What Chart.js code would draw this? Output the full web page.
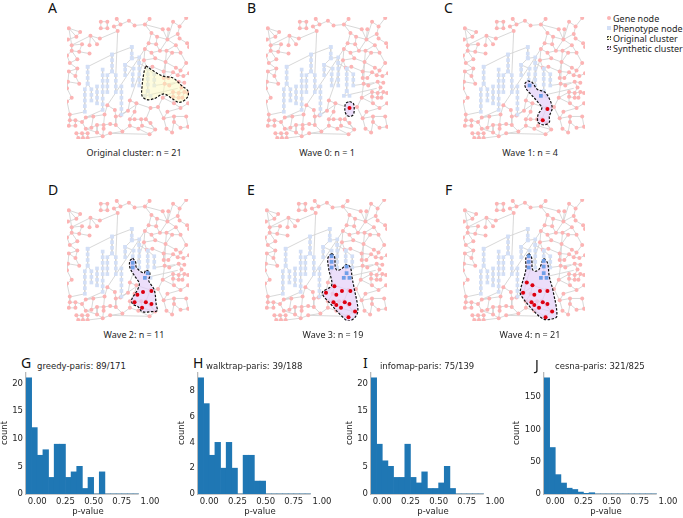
<!DOCTYPE html>
<html>
<head>
<meta charset="utf-8">
<script src="https://cdn.jsdelivr.net/npm/chart.js@4"></script>
<style>
  html, body { margin: 0; background: #fff; width: 683px; height: 518px; overflow: hidden; }
  canvas { position: absolute; }
  .txt { position: absolute; white-space: nowrap; color: #262626; line-height: 1; }
  .letter { font: 14px "Noto Sans", sans-serif; color: #111; transform: translateY(-50%); }
  .caption { font: 9px "Noto Sans", sans-serif; transform: translate(-50%, -50%); }
  .hist-title { font: 8.5px "DejaVu Sans", sans-serif; transform: translateY(-50%); }
  .legend { font: 9px "Noto Sans", sans-serif; transform: translateY(-50%); left: 613px; }
  .mark { position: absolute; box-sizing: border-box; }
</style>
</head>
<body>
<script>
// network layout, units are 0-130 across one panel
const geneNodes = [
  [36,5],[43,5],[36,12],[43,12],[53,2],[57,8],[50,10],[66,4],[54,15],[2,12],
  [14,16],[10,21],[1,24],[25,20],[35,23],[5,30],[16,29],[24,30],[32,29],[0,41],
  [5,36],[13,37],[24,39],[11,45],[3,49],[11,55],[2,58],[9,63],[88,2],[72,9],
  [83,8],[113,5],[127,1],[120,10],[102,13],[108,13],[90,17],[96,21],[118,18],[120,23],
  [107,24],[95,29],[87,28],[116,30],[128,28],[83,34],[90,38],[99,36],[106,36],[112,38],
  [121,38],[130,32],[82,46],[94,44],[105,48],[127,49],[91,53],[85,54],[103,58],[116,54],
  [121,57],[113,59],[118,62],[124,63],[103,65],[108,65],[130,60],[13,71],[1,69],[0,76],
  [5,86],[0,90],[3,104],[43,94],[51,99],[40,104],[52,106],[65,100],[57,105],[20,107],
  [28,106],[16,112],[3,110],[9,110],[2,116],[9,116],[20,119],[26,118],[39,115],[46,114],
  [32,115],[59,122],[39,119],[46,124],[38,127],[10,124],[16,124],[22,124],[12,129],[17,129],
  [22,129],[52,115],[32,123],[104,71],[109,73],[119,69],[125,70],[122,75],[113,80],[119,81],
  [125,80],[129,81],[113,85],[119,86],[123,86],[102,86],[129,92],[114,92],[67,89],[74,92],
  [72,101],[121,97],[107,101],[67,109],[72,109],[79,109],[84,109],[103,108],[114,106],[127,106],
  [114,112],[89,113],[80,116],[76,119],[67,116],[106,119],[121,118],[129,117],[94,120],[112,123],
  [88,125],[89,97],[97,96]
];
const geneEdges = [
  [0,1],[1,3],[3,2],[2,0],[4,5],[5,6],[6,8],[5,7],[8,14],[14,13],[13,15],[15,16],[13,17],[13,18],
  [9,10],[9,11],[10,11],[11,12],[15,9],[15,20],[20,19],[20,21],[21,22],[16,21],[19,24],[23,24],
  [23,20],[24,25],[25,26],[25,27],[26,27],[29,30],[30,34],[34,40],[35,40],[36,37],[37,40],[36,42],
  [37,41],[42,41],[40,31],[40,38],[38,39],[39,44],[44,51],[40,43],[43,50],[43,48],[48,49],[49,50],
  [47,48],[47,46],[46,45],[45,42],[45,52],[46,53],[53,52],[53,54],[52,57],[56,57],[56,58],[54,58],
  [54,59],[59,60],[60,62],[62,61],[61,58],[62,63],[63,66],[55,60],[50,55],[49,54],[48,54],[64,65],
  [64,58],[65,61],[29,7],[28,30],[33,31],[33,38],[40,47],[41,47],[30,36],[32,33],
  [67,68],[68,69],[69,70],[70,71],[71,72],[72,82],[73,74],[73,75],[75,79],[74,76],[76,78],[78,77],
  [75,88],[76,101],[101,91],[88,89],[89,101],[88,92],[92,94],[94,93],[93,91],[79,80],[79,81],[80,87],
  [81,86],[86,87],[81,83],[82,83],[84,85],[82,84],[83,85],[95,96],[96,97],[98,99],[99,100],[95,98],
  [96,99],[97,100],[100,94],[90,87],[90,102],[90,88],[102,86],[94,102],[27,67],[26,68],
  [103,104],[104,105],[105,106],[107,105],[108,109],[109,110],[110,111],[112,113],[113,114],[108,112],
  [109,113],[110,114],[107,109],[115,103],[115,108],[115,117],[117,112],[117,121],[121,116],[121,122],
  [122,127],[127,128],[128,129],[128,130],[130,136],[136,137],[127,135],[135,139],[130,139],[129,137],
  [118,119],[119,141],[119,120],[120,123],[123,124],[124,125],[125,126],[126,131],[132,133],[133,134],
  [134,123],[133,140],[125,132],[132,138],[126,138],[131,138],[138,140],[141,142],[141,126],[142,115],
  [52,118],[93,140],[91,134],[77,118],[142,127],[58,64],[54,103],[45,73]
];
const phenoChains = [
  [[69,32],[69,39],[69,44]],
  [[69,32],[48,40],[22,53]],
  [[48,40],[48,46],[48,52],[48,58],[52,62],[52,68],[52,74],[52,80]],
  [[48,58],[43,62],[43,68],[43,74],[43,80]],
  [[38,56],[38,62],[38,68],[38,74],[38,80],[38,87],[38,93],[38,99]],
  [[22,53],[22,59],[22,65],[22,71],[19,77],[19,83],[19,89],[19,95],[19,101]],
  [[22,71],[26,77],[26,83],[26,89]],
  [[32,74],[32,80],[32,86],[32,92]],
  [[58,74],[58,80],[58,86],[58,92],[58,98],[58,104]],
  [[69,44],[62,51],[62,56],[62,62]],
  [[69,44],[77,43],[77,49],[77,55],[77,61],[77,67],[77,73]],
  [[62,51],[71,55],[70,61],[70,67],[70,73]],
  [[77,49],[86,55],[86,61],[86,66],[86,72],[86,79],[83,84]],
  [[86,79],[89,84]],
  [[86,55],[93,61],[93,67],[93,73]]
];
const crossLinks = [
  [[54,15],[52,62]], [[58,104],[64,100]], [[93,73],[115,70]], [[83,84],[118,76]],
  [[38,99],[20,107]], [[58,104],[73,94]], [[19,101],[5,104]]
];

const clusterA = [[84,52],[93,58],[102,63],[113,65],[122,73],[129,79],[128,86],[120,91],[112,87],[103,82],[93,87],[85,88],[80,84],[80,74],[82,59],[84,52]];
const clusterB = [[89,90],[93,92],[94,98],[93,104],[89,106],[85,103],[84,97],[85,92],[89,90]];
const clusterC = [[69,68],[74,70],[79,77],[87,80],[92,87],[95,97],[92,106],[92,112],[86,115],[80,112],[80,104],[84,97],[80,91],[73,83],[67,76],[66,71],[69,68]];
const clusterD = [[70,63],[73,67],[74,73],[82,79],[84,76],[88,78],[88,83],[87,87],[93,97],[95,112],[96,119],[90,120],[80,120],[76,115],[70,112],[69,107],[75,97],[77,90],[72,82],[67,73],[67,66],[70,63]];
const clusterE = [[71,58],[74,61],[75,73],[77,76],[82,74],[87,70],[91,73],[93,85],[95,95],[99,118],[96,126],[89,130],[82,125],[71,113],[61,100],[71,92],[68,75],[67,63],[71,58]];
const clusterF = [[70,58],[73,62],[74,75],[77,77],[81,75],[86,64],[90,68],[92,83],[96,98],[100,125],[94,128],[86,128],[76,120],[62,103],[61,98],[67,75],[67,63],[70,58]];

const redB = [[89,97]];
const redC = [[90,98],[85,110]];
const blueC = [[71,73],[83,84]];
const redD = [[81,99],[90,98],[75,102],[72,110],[84,110],[90,112],[80,116]];
const blueD = [[70,68],[70,73],[86,79],[83,84]];
const redE = [[74,93],[65,100],[82,98],[91,98],[76,102],[73,110],[85,110],[76,113],[90,112],[81,116],[96,120],[89,126]];
const blueE = [[71,61],[71,67],[71,73],[87,72],[87,79],[84,84],[90,84]];
const redF = [[68,89],[74,92],[64,100],[82,98],[90,98],[76,102],[73,110],[85,110],[76,113],[90,112],[81,116],[95,120],[88,126]];
const blueF = [[70,61],[70,67],[70,73],[86,66],[86,72],[86,79],[83,84],[89,84]];

// histograms, 20 bins of 0.05
const binCenters = [-0.075,-0.025,0.025,0.075,0.125,0.175,0.225,0.275,0.325,0.375,0.425,0.475,0.525,0.575,0.625,0.675,0.725,0.775,0.825,0.875];
const greedyCounts = [21,12,7,8,3,9,9,3,4,5,1,3,0,4,0,0,0,0,0,0];
const walktrapCounts = [9,7,3,4,2,4,2,0,3,3,1,1,0,0,0,0,0,0,0,0];
const infomapCounts = [21,9,6,5,3,3,9,3,2,4,1,1,2,5,1,0,0,0,0,0];
const cesnaCounts = [180,72,30,17,9,7,3,1,2,0,0,0,0,0,0,0,0,0,0,0];
const xTickValues = [0, 0.25, 0.5, 0.75, 1];

const GENE = "#fcb4b4", PHENO = "#d3dff6", EDGE = "#d4d4d4", RED = "#dd0010", BLUE = "#6f9fe8";
const LILAC = "rgba(228,208,248,0.7)", CREAM = "rgba(253,250,190,0.5)";

function toPts(list) {
  return list.map(([x, y]) => ({ x, y }));
}

function edgeData() {
  const out = [];
  geneEdges.forEach(([a, b]) => {
    out.push({ x: geneNodes[a][0], y: geneNodes[a][1] }, { x: geneNodes[b][0], y: geneNodes[b][1] }, { x: null, y: null });
  });
  phenoChains.concat(crossLinks).forEach((chain) => {
    chain.forEach(([x, y]) => out.push({ x, y }));
    out.push({ x: null, y: null });
  });
  return out;
}

function addText(cls, text, left, top) {
  const d = document.createElement("div");
  d.className = "txt " + cls;
  d.textContent = text;
  d.style.left = left + "px";
  d.style.top = top + "px";
  document.body.appendChild(d);
}

function addCanvas(left, top, w, h) {
  const c = document.createElement("canvas");
  c.width = w;
  c.height = h;
  c.style.left = left + "px";
  c.style.top = top + "px";
  document.body.appendChild(c);
  return c.getContext("2d");
}

function networkPanel(left, top, cluster, fillColor, reds, blues) {
  const phenoPts = [];
  phenoChains.forEach((chain) => chain.forEach((p) => phenoPts.push(p)));
  new Chart(addCanvas(left, top, 130, 130), {
    type: "scatter",
    data: {
      datasets: [
        { data: edgeData(), showLine: true, spanGaps: false, borderColor: EDGE, borderWidth: 0.9, pointRadius: 0, order: 6 },
        { data: toPts(geneNodes), backgroundColor: GENE, pointRadius: 2, pointBorderWidth: 0, order: 5 },
        { data: toPts(phenoPts), backgroundColor: PHENO, pointStyle: "rect", pointRadius: 2.6, pointBorderWidth: 0, order: 4 },
        { data: toPts(cluster), showLine: true, fill: "shape", tension: 0.35, backgroundColor: fillColor, borderColor: "#111", borderWidth: 1.2, borderDash: [2.5, 1.5], pointRadius: 0, order: 3 },
        { data: toPts(blues), backgroundColor: BLUE, pointStyle: "rect", pointRadius: 2.6, pointBorderWidth: 0, order: 2 },
        { data: toPts(reds), backgroundColor: RED, pointRadius: 2, pointBorderWidth: 0, order: 1 }
      ]
    },
    options: {
      responsive: false,
      animation: false,
      layout: { padding: 0 },
      plugins: { legend: { display: false }, tooltip: { enabled: false } },
      scales: {
        x: { type: "linear", display: false, min: 0, max: 130 },
        y: { type: "linear", display: false, min: 0, max: 130, reverse: true }
      }
    }
  });
}

function noPadding(scale) {
  scale.paddingLeft = scale.paddingRight = scale.paddingTop = scale.paddingBottom = 0;
}

function histogram(spineX, axisW, counts, yMax, yStep) {
  const top = 372, axisBottom = 494, canvasBottom = 517;
  const areaW = 124.6; // -0.1 to 1.0
  new Chart(addCanvas(spineX - axisW, top, axisW + areaW + 12, canvasBottom - top), {
    data: {
      datasets: [
        { type: "bar", data: counts.map((y, i) => ({ x: binCenters[i], y })), backgroundColor: "#1f77b4", barPercentage: 1, categoryPercentage: 1, borderWidth: 0, order: 1 },
        { type: "line", data: [{ x: -0.1, y: 0 }, { x: 0.9, y: 0 }], borderColor: "#b9b9b9", borderWidth: 1.3, pointRadius: 0, order: 2, clip: false }
      ]
    },
    options: {
      responsive: false,
      animation: false,
      layout: { padding: { right: 12 }, autoPadding: false },
      plugins: { legend: { display: false }, tooltip: { enabled: false } },
      scales: {
        x: {
          type: "linear", min: -0.1, max: 1, offset: false,
          grid: { display: false, drawTicks: false, tickLength: 0 }, border: { display: false },
          ticks: { color: "#262626", font: { family: "DejaVu Sans", size: 8.5 }, maxRotation: 0, autoSkip: false, padding: 3, callback: (v) => Number(v).toFixed(2) },
          title: { display: true, text: "p-value", color: "#262626", font: { family: "DejaVu Sans", size: 8.5 }, padding: 0 },
          afterBuildTicks: (s) => { s.ticks = xTickValues.map((value) => ({ value })); },
          afterFit: (s) => { s.height = canvasBottom - axisBottom; noPadding(s); }
        },
        y: {
          type: "linear", min: 0, max: yMax,
          grid: { display: false, drawTicks: false, tickLength: 0 }, border: { display: true, color: "#b9b9b9", width: 1.3 },
          ticks: { color: "#262626", font: { family: "DejaVu Sans", size: 8.5 }, stepSize: yStep, includeBounds: false, padding: 3 },
          title: { display: true, text: "count", color: "#262626", font: { family: "DejaVu Sans", size: 8.5 }, padding: 0 },
          afterFit: (s) => { s.width = axisW; noPadding(s); }
        }
      }
    }
  });
}

networkPanel(63, 13, clusterA, CREAM, [], []);
networkPanel(262, 13, clusterB, LILAC, redB, []);
networkPanel(459, 13, clusterC, LILAC, redC, blueC);
networkPanel(63, 195, clusterD, LILAC, redD, blueD);
networkPanel(261, 195, clusterE, LILAC, redE, blueE);
networkPanel(459, 195, clusterF, LILAC, redF, blueF);

histogram(25.7, 26, greedyCounts, 22.05, 5);
histogram(198.3, 21, walktrapCounts, 9.45, 2);
histogram(371.3, 26, infomapCounts, 22.05, 5);
histogram(544, 32, cesnaCounts, 189, 50);

[["A",48,7],["B",247,7],["C",444,7],["D",48,189],["E",247,189],["F",445,189],["G",21,362],["H",193,362],["I",363,362],["J",535,364]]
  .forEach(([t, x, y]) => addText("letter", t, x, y));

addText("caption", "Original cluster: n = 21", 134, 152);
addText("caption", "Wave 0: n = 1", 327, 152);
addText("caption", "Wave 1: n = 4", 530, 152);
addText("caption", "Wave 2: n = 11", 134, 334);
addText("caption", "Wave 3: n = 19", 333, 334);
addText("caption", "Wave 4: n = 21", 530, 334);

addText("hist-title", "greedy-paris: 89/171", 37, 366);
addText("hist-title", "walktrap-paris: 39/188", 206, 366);
addText("hist-title", "infomap-paris: 75/139", 380, 366);
addText("hist-title", "cesna-paris: 321/825", 555, 366);

addText("legend", "Gene node", 613, 18);
addText("legend", "Phenotype node", 613, 28);
addText("legend", "Original cluster", 613, 38);
addText("legend", "Synthetic cluster", 613, 48);

function legendMark(top, css) {
  const m = document.createElement("div");
  m.className = "mark";
  m.style.cssText = `left:607px;top:${top}px;` + css;
  document.body.appendChild(m);
}
legendMark(16, `width:4px;height:4px;border-radius:50%;background:${GENE};`);
legendMark(26, `width:4px;height:4px;background:${PHENO};`);
legendMark(36, "width:4px;height:4px;background:#fbf8cc;border:1px dotted #444;");
legendMark(46, "width:4px;height:4px;background:#e2cdf5;border:1px dotted #444;");
</script>
</body>
</html>
